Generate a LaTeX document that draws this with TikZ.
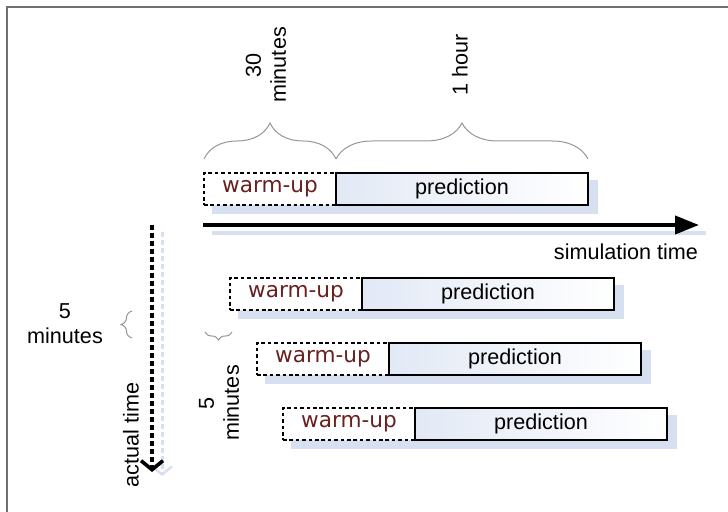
\documentclass[tikz,border=0pt]{standalone}
\usepackage{fontspec}
\setmainfont{Liberation Sans}
\newfontfamily\wfont{DejaVu Sans}
\usetikzlibrary{arrows.meta,decorations.pathreplacing,calc}
\definecolor{predblue}{RGB}{226,233,245}
\definecolor{shadowblue}{RGB}{214,224,241}
\definecolor{warmred}{RGB}{105,32,32}
\definecolor{framegray}{RGB}{112,112,112}
\definecolor{bracegray}{RGB}{150,150,150}
\pgfdeclarelayer{background}
\pgfsetlayers{background,main}
\tikzset{
  every node/.style={font=\fontsize{10.8bp}{12.5bp}\selectfont, inner sep=0pt},
  predbox/.style={draw=black, line width=1bp, left color=predblue, right color=white,
    minimum width=126bp, minimum height=16bp, font=\fontsize{10.8bp}{12.5bp}\selectfont},
  warmbox/.style={draw=black, line width=0.8bp, dash pattern=on 1.8bp off 1.4bp, fill=white,
    minimum width=66bp, minimum height=16bp, text=warmred,
    font=\wfont\fontsize{10.8bp}{12.5bp}\selectfont},
  brc/.style={draw=bracegray, line width=0.5bp, decorate},
  lbl/.style={align=center},
  simarrow/.style={line width=2bp, -{Triangle[length=12bp,width=9bp]}},
  actarrow/.style={line width=2bp, dash pattern=on 2.5bp off 1.5bp, -{Straight Barb[length=4.5bp,width=11bp,line width=1.8bp]}},
}
\begin{document}
\begin{tikzpicture}[x=0.5bp,y=0.5bp]
\useasboundingbox (0,0) rectangle (728,-512);
% frame
\draw[framegray, line width=1bp] (7,-512) -- (7,-7) -- (728,-7);

% rows
\foreach \i/\x/\y in {1/204/189, 2/230/294, 3/257/359, 4/283/424}{
  \node[warmbox] (w\i) at ({\x+66},{-\y}) {warm-up};
  \node[predbox] (p\i) at ({\x+132+126},{-\y}) {prediction};
  \begin{pgfonlayer}{background}
    \fill[shadowblue] ($(w\i.south west)+(9,-8)$) rectangle ($(p\i.north east)+(9,-8)$);
  \end{pgfonlayer}
}

% top braces
\coordinate (b0) at (204,-159);
\coordinate (b1) at (336,-159);
\coordinate (b2) at (588,-159);
\draw[brc, decoration={brace, amplitude=18bp}] (b0) -- (b1);
\draw[brc, decoration={brace, amplitude=18bp}] (b1) -- (b2);
\node[lbl, rotate=90] (t30) at (266,-65) {30\\minutes};
\node[lbl, rotate=90] (t1h) at (460,-65) {1 hour};

% simulation time arrow
\coordinate (s0) at (203,-225);
\coordinate (s1) at (699,-225);
\coordinate (ss0) at (212,-233);
\coordinate (ss1) at (706,-233);
\draw[shadowblue, line width=2bp] (ss0) -- (ss1);
\draw[simarrow] (s0) -- (s1);
\node (simlbl) at (626,-252) {simulation time};

% actual time arrow
\coordinate (a0) at (152,-225);
\coordinate (a1) at (152,-472);
\coordinate (as0) at (162,-232);
\coordinate (as1) at (162,-476);
\draw[shadowblue, line width=1.5bp, dash pattern=on 2.5bp off 1.5bp, -{Straight Barb[length=4bp,width=10bp,line width=1.2bp]}] (as0) -- (as1);
\draw[actarrow] (a0) -- (a1);
\node[rotate=90] (actlbl) at (131,-435) {actual time};

% 5 minutes (left)
\node[lbl] (five1) at (65,-324) {5\\minutes};
\coordinate (c0) at (132,-338);
\coordinate (c1) at (132,-311);
\draw[brc, decoration={brace, amplitude=5.5bp}] (c0) -- (c1);

% 5 minutes (rotated)
\coordinate (d0) at (232,-332);
\coordinate (d1) at (205,-332);
\draw[brc, decoration={brace, amplitude=4bp}] (d0) -- (d1);
\node[lbl, rotate=90] (five2) at (219,-403) {5\\minutes};
\end{tikzpicture}
\end{document}
